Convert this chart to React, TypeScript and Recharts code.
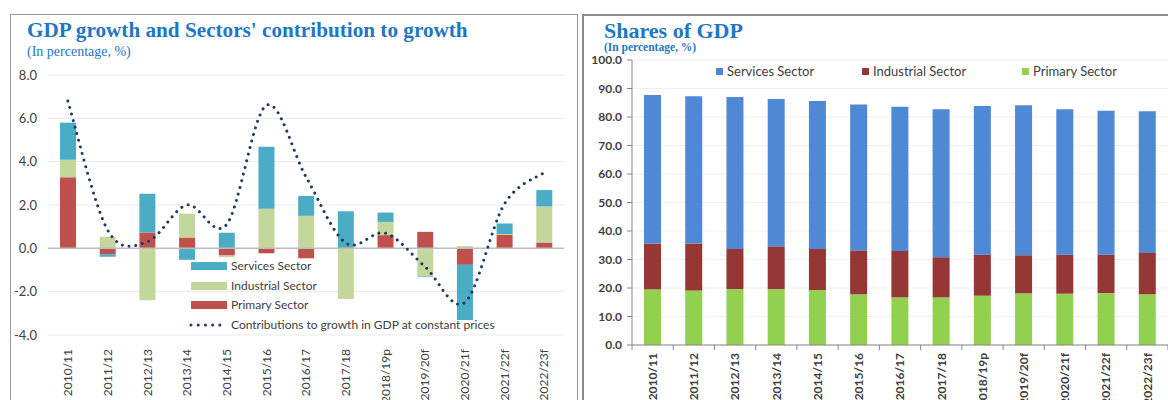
import React from 'react';
import {
  ComposedChart,
  BarChart,
  Bar,
  Line,
  XAxis,
  YAxis,
  CartesianGrid,
  ReferenceLine,
  Legend,
} from 'recharts';

// ---------- data ----------
const years = [
  '2010/11', '2011/12', '2012/13', '2013/14', '2014/15', '2015/16', '2016/17',
  '2017/18', '2018/19p', '2019/20f', '2020/21f', '2021/22f', '2022/23f',
];

// Left chart: contributions to growth (percentage points)
const primaryContrib = [3.28, -0.27, 0.73, 0.5, -0.33, -0.23, -0.46, 0.05, 0.61, 0.76, -0.76, 0.61, 0.27];
const industrialContrib = [0.81, 0.53, -2.4, 1.1, -0.08, 1.83, 1.5, -2.34, 0.61, -1.3, 0.1, 0.05, 1.66];
const servicesContrib = [1.71, -0.12, 1.79, -0.53, 0.72, 2.86, 0.92, 1.66, 0.43, -0.03, -2.55, 0.49, 0.76];
const gdpGrowth = [6.8, 0.85, 0.3, 2.0, 1.1, 6.6, 3.3, 0.25, 0.7, -0.85, -2.5, 2.05, 3.5];
const growthTicks = [-4, -2, 0, 2, 4, 6, 8];

// Right chart: shares of GDP (%)
const primaryShare = [19.5, 19.1, 19.6, 19.6, 19.3, 17.8, 16.7, 16.7, 17.3, 18.1, 18.0, 18.2, 17.8];
const industrialShare = [16.1, 16.5, 14.1, 15.0, 14.4, 15.4, 16.3, 14.1, 14.4, 13.4, 13.7, 13.5, 14.5];
const servicesShare = [52.1, 51.7, 53.3, 51.7, 51.9, 51.2, 50.6, 51.9, 52.2, 52.6, 51.0, 50.5, 49.7];
const shareTicks = [0, 10, 20, 30, 40, 50, 60, 70, 80, 90, 100];

const growthData = years.map((year, i) => ({
  year,
  primary: primaryContrib[i],
  industrial: industrialContrib[i],
  services: servicesContrib[i],
  gdp: gdpGrowth[i],
}));

const shareData = years.map((year, i) => ({
  year,
  primary: primaryShare[i],
  industrial: industrialShare[i],
  services: servicesShare[i],
}));

// ---------- styles ----------
const TITLE_BLUE = '#1F77C4';
const AXIS_TEXT = '#404040';
const C_SERV = '#4BACC6';
const C_IND = '#C3D69B';
const C_PRIM = '#C0504D';
const C_LINE = '#1F3864';
const S_SERV = '#4F88D4';
const S_IND = '#953735';
const S_PRIM = '#92D050';

// Excel-like smoothed curve (Catmull-Rom converted to Bezier)
const excelSmooth = (context: any) => {
  let pts: [number, number][] = [];
  return {
    areaStart() {},
    areaEnd() {},
    lineStart() {
      pts = [];
    },
    point(x: number, y: number) {
      pts.push([+x, +y]);
    },
    lineEnd() {
      const n = pts.length;
      if (!n) return;
      context.moveTo(pts[0][0], pts[0][1]);
      for (let i = 0; i < n - 1; i++) {
        const p0 = pts[i - 1] || pts[i];
        const p1 = pts[i];
        const p2 = pts[i + 1];
        const p3 = pts[i + 2] || p2;
        context.bezierCurveTo(
          p1[0] + (p2[0] - p0[0]) / 6,
          p1[1] + (p2[1] - p0[1]) / 6,
          p2[0] - (p3[0] - p1[0]) / 6,
          p2[1] - (p3[1] - p1[1]) / 6,
          p2[0],
          p2[1]
        );
      }
    },
  };
};

const LeftXTick = (props: any) => {
  const { x, y, payload } = props;
  return (
    <text
      x={x}
      y={y}
      transform={`rotate(-90, ${x}, ${y})`}
      textAnchor="end"
      dy="0.36em"
      fontSize={12}
      fontFamily="Lato"
      fill={AXIS_TEXT}
    >
      {payload.value}
    </text>
  );
};

const R_PLOT_W = 536;
const R_BAND = R_PLOT_W / years.length;

const RightXTick = (props: any) => {
  const { x, y, payload, index } = props;
  const top = y - 8;
  return (
    <g>
      <line x1={x - R_BAND / 2} x2={x - R_BAND / 2} y1={top} y2={top + 5} stroke="#868686" />
      {index === years.length - 1 && (
        <line x1={x + R_BAND / 2} x2={x + R_BAND / 2} y1={top} y2={top + 5} stroke="#868686" />
      )}
      <text
        x={x}
        y={y}
        transform={`rotate(-90, ${x}, ${y})`}
        textAnchor="end"
        dy="0.36em"
        fontSize={12}
        fontWeight="bold"
        fontFamily="Lato"
        fill={AXIS_TEXT}
      >
        {payload.value}
      </text>
    </g>
  );
};

const legendText: React.CSSProperties = {
  position: 'absolute',
  fontFamily: 'Lato',
  fontSize: 12,
  color: AXIS_TEXT,
  whiteSpace: 'nowrap',
  lineHeight: '14px',
};

const LeftLegend = () => {
  const rows = [
    { label: 'Services Sector', color: C_SERV, cy: 266 },
    { label: 'Industrial Sector', color: C_IND, cy: 285.5 },
    { label: 'Primary Sector', color: C_PRIM, cy: 305 },
  ];
  return (
    <div style={{ position: 'relative', width: 0, height: 0 }}>
      {rows.map((r) => (
        <React.Fragment key={r.label}>
          <div style={{ position: 'absolute', left: 191, top: r.cy - 4, width: 36, height: 8, background: r.color }} />
          <div style={{ ...legendText, left: 231, top: r.cy - 7 }}>{r.label}</div>
        </React.Fragment>
      ))}
      <svg style={{ position: 'absolute', left: 188, top: 320 }} width={42} height={10}>
        <line x1={3} x2={39} y1={5} y2={5} stroke={C_LINE} strokeWidth={3} strokeDasharray="0.01 7.2" strokeLinecap="round" />
      </svg>
      <div style={{ ...legendText, left: 231, top: 324.5 - 7 }}>
        Contributions to growth in GDP at constant prices
      </div>
    </div>
  );
};

const RightLegend = () => {
  const items = [
    { label: 'Services Sector', color: S_SERV, x: 136 },
    { label: 'Industrial Sector', color: S_IND, x: 282 },
    { label: 'Primary Sector', color: S_PRIM, x: 442 },
  ];
  return (
    <div style={{ position: 'relative', width: 0, height: 0 }}>
      {items.map((it) => (
        <React.Fragment key={it.label}>
          <div style={{ position: 'absolute', left: it.x, top: 67.5, width: 7, height: 7, background: it.color }} />
          <div style={{ ...legendText, fontSize: 13, left: it.x + 11, top: 71 - 7 }}>{it.label}</div>
        </React.Fragment>
      ))}
    </div>
  );
};

const titleStyle: React.CSSProperties = {
  position: 'absolute',
  fontFamily: '"Liberation Serif", serif',
  fontWeight: 'bold',
  color: TITLE_BLUE,
  whiteSpace: 'nowrap',
  lineHeight: 1,
};

export default function App() {
  return (
    <div
      style={{
        position: 'absolute',
        left: 0,
        top: 0,
        width: 1168,
        height: 400,
        overflow: 'hidden',
        background: '#fff',
      }}
    >
      {/* panel frames */}
      <div style={{ position: 'absolute', left: 10, top: 14, width: 566, height: 400, border: '1px solid #9a9a9a' }} />
      <div
        style={{
          position: 'absolute',
          left: 582,
          top: 14,
          width: 600,
          height: 400,
          borderLeft: '2px solid #8a8a8a',
          borderTop: '2px solid #8a8a8a',
        }}
      />

      {/* titles */}
      <div style={{ ...titleStyle, left: 27, top: 20, fontSize: 21.2 }}>
        GDP growth and Sectors' contribution to growth
      </div>
      <div style={{ ...titleStyle, left: 27, top: 45, fontSize: 14, fontWeight: 'normal' }}>
        (In percentage, %)
      </div>
      <div style={{ ...titleStyle, left: 604, top: 20, fontSize: 22 }}>Shares of GDP</div>
      <div style={{ ...titleStyle, left: 604, top: 42, fontSize: 11.5 }}>(In percentage, %)</div>

      {/* left chart */}
      <div style={{ position: 'absolute', left: 0, top: 0 }}>
        <ComposedChart
          width={580}
          height={400}
          data={growthData}
          stackOffset="sign"
          margin={{ top: 75, right: 16, bottom: 5, left: 8 }}
        >
          <CartesianGrid vertical={false} stroke="#E9E9E9" />
          <XAxis
            dataKey="year"
            axisLine={false}
            tickLine={false}
            tickSize={0}
            tickMargin={14}
            interval={0}
            height={60}
            tick={<LeftXTick />}
          />
          <YAxis
            domain={[-4, 8]}
            ticks={growthTicks}
            axisLine={false}
            tickLine={false}
            tickSize={0}
            tickMargin={11}
            width={40}
            tickFormatter={(v: number) => v.toFixed(1)}
            tick={{ fontSize: 13, fontFamily: 'Lato', fill: AXIS_TEXT }}
          />
          <ReferenceLine y={0} stroke="#BDBDBD" strokeWidth={1.5} />
          <Bar dataKey="primary" stackId="a" fill={C_PRIM} barSize={16} isAnimationActive={false} />
          <Bar dataKey="industrial" stackId="a" fill={C_IND} barSize={16} isAnimationActive={false} />
          <Bar dataKey="services" stackId="a" fill={C_SERV} barSize={16} isAnimationActive={false} />
          <Line
            dataKey="gdp"
            type={excelSmooth as any}
            stroke={C_LINE}
            strokeWidth={3}
            strokeDasharray="0.01 6.8"
            strokeLinecap="round"
            dot={false}
            activeDot={false}
            isAnimationActive={false}
          />
          <Legend
            layout="horizontal"
            verticalAlign="middle"
            align="center"
            wrapperStyle={{ left: 0, top: 0, width: 0, height: 0 }}
            content={() => <LeftLegend />}
          />
        </ComposedChart>
      </div>

      {/* right chart */}
      <div style={{ position: 'absolute', left: 580, top: 0 }}>
        <BarChart
          width={588}
          height={400}
          data={shareData}
          margin={{ top: 60, right: 0, bottom: 5, left: 2 }}
        >
          <CartesianGrid vertical={false} stroke="#EFEFEF" />
          <XAxis
            dataKey="year"
            axisLine={{ stroke: '#868686' }}
            tickLine={false}
            tickSize={0}
            tickMargin={8}
            interval={0}
            height={50}
            tick={<RightXTick />}
          />
          <YAxis
            domain={[0, 100]}
            ticks={shareTicks}
            axisLine={{ stroke: '#868686' }}
            tickLine={{ stroke: '#868686' }}
            tickSize={5}
            tickMargin={5}
            width={50}
            tickFormatter={(v: number) => v.toFixed(1)}
            tick={{ fontSize: 12, fontFamily: 'Lato', fontWeight: 'bold', fill: AXIS_TEXT }}
          />
          <Bar dataKey="primary" stackId="s" fill={S_PRIM} barSize={17} isAnimationActive={false} />
          <Bar dataKey="industrial" stackId="s" fill={S_IND} barSize={17} isAnimationActive={false} />
          <Bar dataKey="services" stackId="s" fill={S_SERV} barSize={17} isAnimationActive={false} />
          <Legend
            layout="horizontal"
            verticalAlign="middle"
            align="center"
            wrapperStyle={{ left: 0, top: 0, width: 0, height: 0 }}
            content={() => <RightLegend />}
          />
        </BarChart>
      </div>
    </div>
  );
}
